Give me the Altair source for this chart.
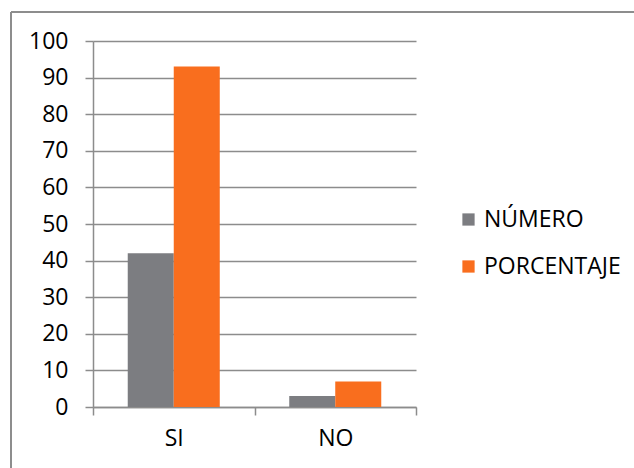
import altair as alt
import pandas as pd

# Survey answers and their counts / percentages
categories = ["SI", "NO"]
series = ["NÚMERO", "PORCENTAJE"]
numero = [42, 3]
porcentaje = [93, 7]
y_ticks = [0, 10, 20, 30, 40, 50, 60, 70, 80, 90, 100]
colors = ["#7c7d81", "#f96e1e"]

rows = []
for i, cat in enumerate(categories):
    rows.append({"respuesta": cat, "serie": series[0], "valor": numero[i]})
    rows.append({"respuesta": cat, "serie": series[1], "valor": porcentaje[i]})
df = pd.DataFrame(rows)

FONT = "Open Sans"
FONT_SIZE = 23
AXIS_GRAY = "#8c8c8c"

bars = alt.Chart(df).mark_bar().encode(
    x=alt.X(
        "respuesta:N",
        sort=categories,
        title=None,
        scale=alt.Scale(paddingInner=0, paddingOuter=0),
        axis=alt.Axis(
            labelAngle=0,
            tickBand="extent",
            tickSize=8,
            tickColor=AXIS_GRAY,
            tickWidth=1.5,
            domainColor=AXIS_GRAY,
            domainWidth=1.5,
            labelFont=FONT,
            labelFontSize=FONT_SIZE,
            labelColor="#000000",
            labelPadding=12,
            grid=False,
        ),
    ),
    xOffset=alt.XOffset(
        "serie:N",
        sort=series,
        scale=alt.Scale(paddingInner=0, paddingOuter=0.755),
    ),
    y=alt.Y(
        "valor:Q",
        title=None,
        scale=alt.Scale(domain=[0, 100], nice=False, zero=True),
        axis=alt.Axis(
            values=y_ticks,
            tickSize=8,
            tickColor=AXIS_GRAY,
            tickWidth=1.5,
            domainColor=AXIS_GRAY,
            domainWidth=1.5,
            gridColor=AXIS_GRAY,
            gridWidth=1.5,
            labelFont=FONT,
            labelFontSize=FONT_SIZE,
            labelColor="#000000",
            labelPadding=17,
        ),
    ),
    color=alt.Color(
        "serie:N",
        sort=series,
        scale=alt.Scale(domain=series, range=colors),
        legend=alt.Legend(
            title=None,
            orient="none",
            legendX=364,
            legendY=167,
            symbolType="square",
            symbolSize=150,
            symbolStrokeWidth=0,
            labelFont=FONT,
            labelFontSize=FONT_SIZE,
            labelColor="#000000",
            labelOffset=4,
            rowPadding=23,
        ),
    ),
)

# Outer frame of the chart (left and top edges)
frame_left = alt.Chart(df).mark_rule(color=AXIS_GRAY, strokeWidth=1.5).encode(
    x=alt.value(-82), y=alt.value(-29), y2=alt.value(460)
)
frame_top = alt.Chart(df).mark_rule(color=AXIS_GRAY, strokeWidth=1.5).encode(
    x=alt.value(-82), x2=alt.value(560), y=alt.value(-29)
)

chart = (
    alt.layer(bars, frame_left, frame_top)
    .properties(
        width=323,
        height=366,
        autosize=alt.AutoSizeParams(type="none"),
        padding={"left": 93, "top": 41, "right": 218, "bottom": 61},
        background="#ffffff",
    )
    .configure_view(stroke=None)
)

chart.save("out.html", embed_options={"renderer": "svg", "actions": False})
